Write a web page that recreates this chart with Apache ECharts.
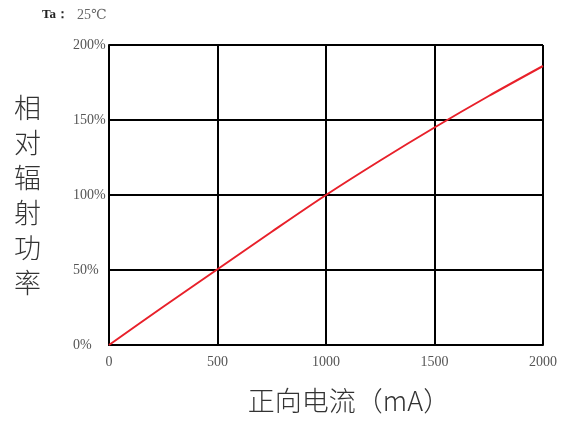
<!DOCTYPE html>
<html>
<head>
<meta charset="utf-8">
<script src="https://cdn.jsdelivr.net/npm/echarts@6/dist/echarts.min.js"></script>
<style>html,body{margin:0;padding:0;background:#fff}#c{width:577px;height:423px}</style>
</head>
<body>
<div id="c"></div>
<script>
var currents = [0, 250, 500, 750, 1000, 1250, 1500, 1750, 2000];
var relPower = [0, 25.5, 50.5, 75.5, 100, 123, 145, 166, 186];
var xTicks = [0, 500, 1000, 1500, 2000];
var yTicks = [0, 50, 100, 150, 200];

var chart = echarts.init(document.getElementById('c'), null, {renderer: 'canvas'});
var serif = '"Liberation Serif", "DejaVu Serif", serif';
var cjk = '"Noto Sans CJK SC", sans-serif';
chart.setOption({
  animation: false,
  backgroundColor: '#fff',
  grid: {left: 109, top: 45, width: 434, height: 300},
  graphic: [
    {type: 'text', left: 42, top: 8, style: {text: 'Ta：', font: 'bold 13px ' + serif, fill: '#222'}},
    {type: 'text', left: 77, top: 8, style: {text: '25℃', font: '14px ' + serif, fill: '#666'}}
  ],
  xAxis: {
    type: 'value', min: 0, max: 2000, interval: 500,
    name: '正向电流（mA）', nameLocation: 'middle', nameGap: 42,
    nameTextStyle: {fontFamily: cjk, fontSize: 27, fontWeight: 300, color: '#333', padding: [0, 0, 0, 46]},
    axisLine: {show: true, lineStyle: {color: '#000', width: 2}},
    axisTick: {show: false},
    axisLabel: {fontFamily: serif, fontSize: 14, color: '#555', margin: 10,
      formatter: function (v) { return String(v); }},
    splitLine: {show: true, lineStyle: {color: '#000', width: 2}}
  },
  yAxis: {
    type: 'value', min: 0, max: 200, interval: 50,
    name: '相\n对\n辐\n射\n功\n率', nameLocation: 'middle', nameGap: 68, nameRotate: 0,
    nameTextStyle: {fontFamily: cjk, fontSize: 27, fontWeight: 300, lineHeight: 35, color: '#333'},
    axisLine: {show: true, lineStyle: {color: '#000', width: 2}},
    axisTick: {show: false},
    axisLabel: {fontFamily: serif, fontSize: 14, color: '#555', margin: 36, align: 'left', formatter: '{value}%'},
    splitLine: {show: true, lineStyle: {color: '#000', width: 2}}
  },
  series: [{
    type: 'line',
    data: currents.map(function (c, i) { return [c, relPower[i]]; }),
    showSymbol: false,
    smooth: 0.3,
    lineStyle: {color: '#e8202a', width: 2},
    z: 5
  }]
});
</script>
</body>
</html>
